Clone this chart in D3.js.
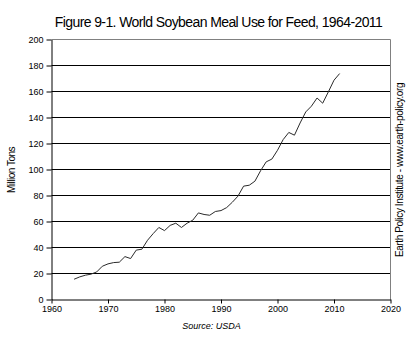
<!DOCTYPE html>
<html>
<head>
<meta charset="utf-8">
<script src="https://cdn.jsdelivr.net/npm/d3@7"></script>
<style>
  html, body { margin: 0; padding: 0; background: #fff; }
  svg { display: block; font-family: "Liberation Sans", Arial, sans-serif; }
</style>
</head>
<body>
<svg id="chart" width="408" height="343"></svg>
<script>
// World soybean meal use for feed, million tons
const years = [1964, 1965, 1966, 1967, 1968, 1969, 1970, 1971, 1972, 1973,
  1974, 1975, 1976, 1977, 1978, 1979, 1980, 1981, 1982, 1983,
  1984, 1985, 1986, 1987, 1988, 1989, 1990, 1991, 1992, 1993,
  1994, 1995, 1996, 1997, 1998, 1999, 2000, 2001, 2002, 2003,
  2004, 2005, 2006, 2007, 2008, 2009, 2010, 2011];
const feedUse = [15.6, 17.4, 18.7, 19.5, 21.2, 25.6, 27.4, 28.4, 28.7, 33.0,
  31.5, 38.0, 38.7, 45.6, 50.7, 55.4, 53.0, 57.0, 58.7, 55.4,
  58.7, 61.0, 66.6, 65.4, 64.8, 67.7, 68.4, 70.7, 74.8, 79.5,
  87.2, 87.9, 91.0, 99.0, 105.9, 108.0, 114.8, 123.0, 128.5, 126.4,
  135.8, 144.3, 148.7, 155.0, 151.0, 159.7, 168.7, 173.8];
const xTicks = [1960, 1970, 1980, 1990, 2000, 2010, 2020];
const yTicks = [0, 20, 40, 60, 80, 100, 120, 140, 160, 180, 200];

const titleText = "Figure 9-1. World Soybean Meal Use for Feed, 1964-2011";
const yLabelText = "Million Tons";
const sourceText = "Source: USDA";
const creditText = "Earth Policy Institute - www.earth-policy.org";

const svg = d3.select("#chart");
const plotL = 51.5, plotR = 390.5, plotT = 39.5, plotB = 299.5;

const x = d3.scaleLinear().domain([1960, 2020]).range([plotL, plotR]);
const y = d3.scaleLinear().domain([0, 200]).range([plotB, plotT]);

// horizontal gridlines
svg.append("g")
  .selectAll("line")
  .data(yTicks.filter(v => v > 0 && v < 200))
  .join("line")
  .attr("x1", plotL).attr("x2", plotR)
  .attr("y1", d => y(d)).attr("y2", d => y(d))
  .attr("stroke", "#000").attr("stroke-width", 1);

// plot frame: top and right edges in gray
svg.append("path")
  .attr("d", `M${plotL},${y(200)}H${plotR}V${plotB}`)
  .attr("fill", "none").attr("stroke", "#808080").attr("stroke-width", 1);

// y axis
const yAxis = svg.append("g")
  .attr("transform", `translate(${plotL},0)`)
  .call(d3.axisLeft(y).tickValues(yTicks).tickSize(5).tickPadding(3).tickSizeOuter(0));
yAxis.select(".domain").attr("stroke", "#000");
yAxis.selectAll(".tick line").attr("stroke", "#000");
yAxis.selectAll(".tick text")
  .attr("font-family", "'Liberation Sans', Arial, sans-serif")
  .attr("font-size", 9).attr("fill", "#000");

// x axis
const xAxis = svg.append("g")
  .attr("transform", `translate(0,${plotB})`)
  .call(d3.axisBottom(x).tickValues(xTicks).tickFormat(d3.format("d")).tickSize(4).tickPadding(2).tickSizeOuter(0));
xAxis.select(".domain").attr("stroke", "#000");
xAxis.selectAll(".tick line").attr("stroke", "#000");
xAxis.selectAll(".tick text")
  .attr("font-family", "'Liberation Sans', Arial, sans-serif")
  .attr("font-size", 9).attr("fill", "#000");

// data line
const line = d3.line()
  .x((d, i) => x(years[i]))
  .y(d => y(d));
svg.append("path")
  .datum(feedUse)
  .attr("d", line)
  .attr("fill", "none")
  .attr("stroke", "#2a2a2a")
  .attr("stroke-width", 1)
  .attr("stroke-linejoin", "round");

// title
svg.append("text")
  .attr("x", 218.5).attr("y", 26.5)
  .attr("text-anchor", "middle")
  .attr("font-size", 14)
  .attr("letter-spacing", -0.6)
  .text(titleText);

// y axis title
svg.append("text")
  .attr("transform", "translate(15,170) rotate(-90)")
  .attr("text-anchor", "middle")
  .attr("font-size", 10)
  .attr("letter-spacing", -0.5)
  .text(yLabelText);

// source note
svg.append("text")
  .attr("x", 211.5).attr("y", 329)
  .attr("text-anchor", "middle")
  .attr("font-size", 9)
  .attr("font-style", "italic")
  .text(sourceText);

// credit along right edge
svg.append("text")
  .attr("transform", "translate(402.5,170) rotate(-90)")
  .attr("text-anchor", "middle")
  .attr("font-size", 10)
  .attr("letter-spacing", -0.4)
  .text(creditText);
</script>
</body>
</html>
